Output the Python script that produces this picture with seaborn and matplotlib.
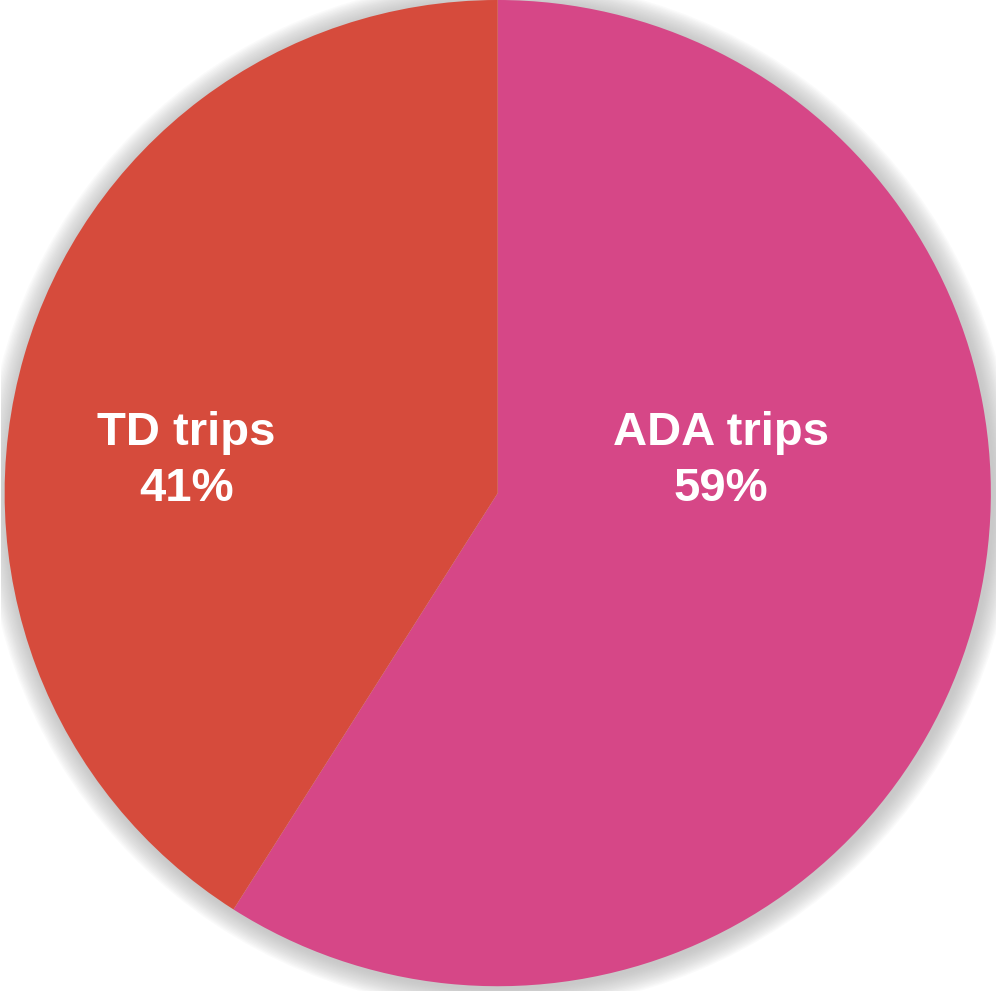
import matplotlib.pyplot as plt
from matplotlib.patches import Circle
import seaborn as sns

labels = ['ADA trips', 'TD trips']
shares = [59, 41]
colors = ['#D64787', '#D64B3C']

sns.set_theme(style='white')
plt.rcParams['font.family'] = ['Liberation Sans', 'DejaVu Sans']

fig = plt.figure(figsize=(9.97, 9.91), dpi=100)
ax = fig.add_axes([0, 0, 1, 1])

# soft grey shadow round the pie
for i in range(16):
    r = 1.0 + 0.0028 * (16 - i)
    ax.add_patch(Circle((0.004, -0.004), r, color='#a8a8a8', alpha=0.05, lw=0, zorder=0))

wedges, _ = ax.pie(shares, colors=sns.color_palette(colors), startangle=90, counterclock=False,
                   radius=1.0, wedgeprops=dict(linewidth=0))
for w in wedges:
    w.set_zorder(2)

label_pos = [(0.453, 0.065), (-0.632, 0.065)]
for lab, val, (x, y) in zip(labels, shares, label_pos):
    ax.text(x, y, f'{lab}\n{val}%', ha='center', va='center', color='white',
            fontsize=34, fontweight='bold', linespacing=1.35, zorder=3)

ax.set_xlim(-1.0076, 1.0107)
ax.set_ylim(-1.0097, 1.0)
ax.set_aspect('equal')
ax.axis('off')

fig.savefig('out.png', dpi=100, facecolor='white')
